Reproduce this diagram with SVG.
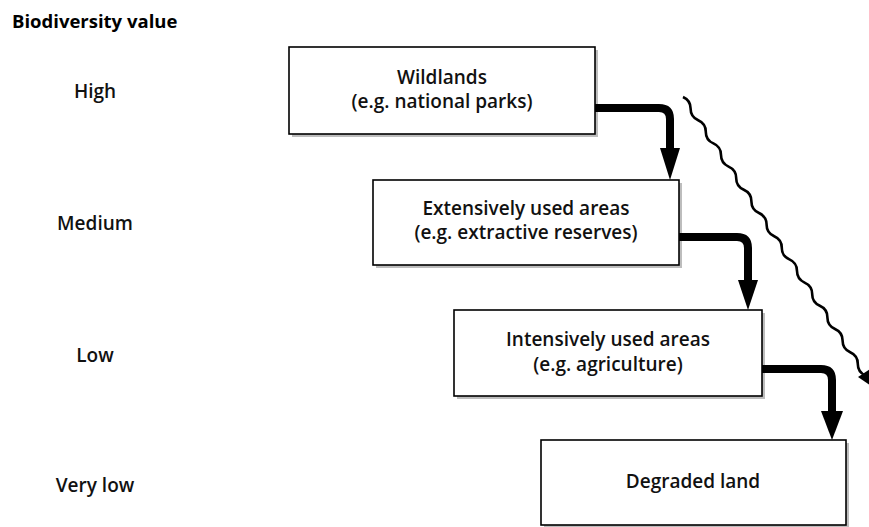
<svg xmlns="http://www.w3.org/2000/svg" width="869" height="527" viewBox="0 0 869 527">
<defs>
<style>
.box{fill:#fff;stroke:#000;stroke-width:1.6}
.shadow{fill:#bdbdbd}
.t{font-family:"Open Sans","DejaVu Sans",sans-serif;font-size:19px;font-weight:600;fill:#111;text-anchor:middle}
.lab{font-family:"Open Sans","DejaVu Sans",sans-serif;font-size:19px;font-weight:600;fill:#111;text-anchor:middle}
.title{font-family:"Open Sans","DejaVu Sans",sans-serif;font-size:18.5px;font-weight:bold;fill:#000}
.flow{fill:none;stroke:#000;stroke-width:8}
.head{fill:#000}
.wave{fill:none;stroke:#000;stroke-width:2.6}
</style>
</defs>
<rect width="869" height="527" fill="#fff"/>
<g id="axis">
<text class="title" x="12" y="28">Biodiversity value</text>
<text class="lab" x="95" y="98">High</text>
<text class="lab" x="95" y="230">Medium</text>
<text class="lab" x="95" y="362">Low</text>
<text class="lab" x="95" y="492">Very low</text>
</g>
<g id="wildlands">
<rect class="shadow" x="292" y="50" width="306" height="87"/>
<rect class="box" x="289" y="47" width="306" height="87"/>
<text class="t" x="442" y="84">Wildlands</text>
<text class="t" x="442" y="108">(e.g. national parks)</text>
</g>
<g id="extensive">
<rect class="shadow" x="376" y="183" width="306" height="85"/>
<rect class="box" x="373" y="180" width="306" height="85"/>
<text class="t" x="526" y="215">Extensively used areas</text>
<text class="t" x="526" y="239">(e.g. extractive reserves)</text>
</g>
<g id="intensive">
<rect class="shadow" x="457" y="313" width="308" height="86"/>
<rect class="box" x="454" y="310" width="308" height="86"/>
<text class="t" x="608" y="346">Intensively used areas</text>
<text class="t" x="608" y="371">(e.g. agriculture)</text>
</g>
<g id="degraded">
<rect class="shadow" x="544" y="443" width="305" height="85"/>
<rect class="box" x="541" y="440" width="305" height="85"/>
<text class="t" x="693" y="488">Degraded land</text>
</g>
<g id="connectors">
<path class="flow" d="M595,108 H659 Q670,108 670,119 V152"/>
<polygon class="head" points="660,148 680,148 670,180"/>
<path class="flow" d="M679,237 H737 Q748,237 748,248 V284"/>
<polygon class="head" points="738,280 758,280 748,310"/>
<path class="flow" d="M762,369 H821 Q832,369 832,380 V414"/>
<polygon class="head" points="821,411 843,411 832,440"/>
<path class="wave" d="M683,97 q7.64,3.43 7.6,11.6 t7.6,11.6 t7.6,11.6 t7.6,11.6 t7.6,11.6 t7.6,11.6 t7.6,11.6 t7.6,11.6 t7.6,11.6 t7.6,11.6 t7.6,11.6 t7.6,11.6 t7.6,11.6 t7.6,11.6 t7.6,11.6 t7.6,11.6 t7.6,11.6 t7.6,11.6 t7.6,11.6 t7.6,11.6 t7.6,11.6 t7.6,11.6 t7.6,11.6 t7.6,11.6"/>
<polygon class="head" points="874,388 870,369 858,377"/>
</g>
</svg>
